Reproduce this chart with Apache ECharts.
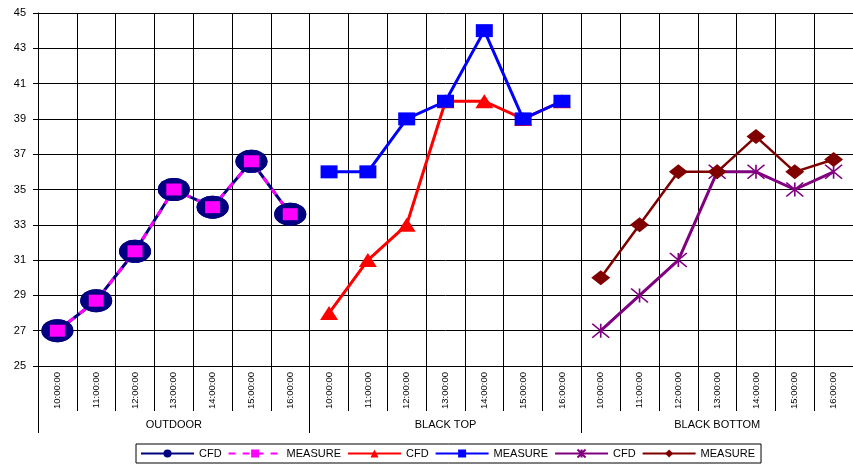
<!DOCTYPE html>
<html><head><meta charset="utf-8">
<script src="https://cdn.jsdelivr.net/npm/echarts@6/dist/echarts.min.js"></script>
<style>html,body{margin:0;padding:0;background:#fff}#c{width:853px;height:467px}</style>
</head><body><div id="c"></div>
<script>
// ---- data ----
const times = ['10:00:00','11:00:00','12:00:00','13:00:00','14:00:00','15:00:00','16:00:00'];
const groups = ['OUTDOOR','BLACK TOP','BLACK BOTTOM'];
const outdoorCfd = [27, 28.7, 31.5, 35, 34, 36.6, 33.6];
const outdoorMeasure = [27, 28.7, 31.5, 35, 34, 36.6, 33.6];
const blackTopCfd = [28, 31, 33, 40, 40, 39, 40];
const blackTopMeasure = [36, 36, 39, 40, 44, 39, 40];
const blackBottomCfd = [27, 29, 31, 36, 36, 35, 36];
const blackBottomMeasure = [30, 33, 36, 36, 38, 36, 36.7];
const yMin = 25, yMax = 45, yStep = 2;
const legendLabels = {
  'OUTDOOR CFD': 'CFD', 'OUTDOOR MEASURE': 'MEASURE',
  'BLACK TOP CFD': 'CFD', 'BLACK TOP MEASURE': 'MEASURE',
  'BLACK BOTTOM CFD': 'CFD', 'BLACK BOTTOM MEASURE': 'MEASURE'
};

// ---- build ----
const categories = groups.flatMap(() => times);
function place(g, values) {
  const arr = new Array(categories.length).fill(null);
  values.forEach((v, i) => { arr[g * times.length + i] = v; });
  return arr;
}
const FONT = "'Liberation Sans', Arial, sans-serif";
const ELLIPSE = 'path://M0,10A16,10,0,1,1,32,10A16,10,0,1,1,0,10Z';
const ASTER = 'path://M0,0L16,14M16,0L0,14M8,0L8,14';

function lineSeries(name, data, color, opts) {
  return Object.assign({
    name, type: 'line', data, xAxisIndex: 0, yAxisIndex: 0,
    showSymbol: true, showAllSymbol: true, connectNulls: false,
    lineStyle: { color, width: 3 },
    itemStyle: { color, opacity: 1 },
    emphasis: { disabled: true },
    animation: false
  }, opts);
}

const chart = echarts.init(document.getElementById('c'), null, { renderer: 'canvas' });
chart.setOption({
  animation: false,
  backgroundColor: '#fff',
  textStyle: { fontFamily: FONT, color: '#000' },
  grid: { left: 38, top: 13, right: -9, bottom: 101, containLabel: false },
  legend: {
    data: Object.keys(legendLabels),
    formatter: n => legendLabels[n],
    left: 136, top: 444,
    itemWidth: 53, itemHeight: 10, itemGap: 6,
    padding: [4, 6, 4, 4],
    borderColor: '#000', borderWidth: 1,
    textStyle: { fontSize: 11, color: '#000', fontFamily: FONT },
    selectedMode: false
  },
  xAxis: [{
    type: 'category', data: categories, position: 'bottom', boundaryGap: true,
    axisLine: { show: true, lineStyle: { color: '#000', width: 1 } },
    axisTick: { show: true, interval: 0, length: 45, lineStyle: { color: '#000', width: 1 } },
    axisLabel: { interval: 0, rotate: 90, margin: 6, fontSize: 9.5, color: '#000', fontFamily: FONT },
    splitLine: { show: true, interval: 0, lineStyle: { color: '#000', width: 1 } }
  }, {
    type: 'category', data: groups, position: 'bottom', boundaryGap: true,
    axisLine: { show: false },
    axisTick: { show: true, interval: 0, length: 67, lineStyle: { color: '#000', width: 1 } },
    axisLabel: { interval: 0, margin: 53, fontSize: 11, color: '#000', fontFamily: FONT },
    splitLine: { show: false }
  }],
  yAxis: {
    type: 'value', min: yMin, max: yMax, interval: yStep,
    axisLine: { show: true, lineStyle: { color: '#000', width: 1 } },
    axisTick: { show: true, length: 5, lineStyle: { color: '#000', width: 1 } },
    axisLabel: { margin: 12, fontSize: 11, color: '#000', fontFamily: FONT },
    splitLine: { show: true, lineStyle: { color: '#000', width: 1 } }
  },
  series: [
    lineSeries('OUTDOOR CFD', place(0, outdoorCfd), '#000080', { symbol: ELLIPSE, symbolSize: [32, 23], z: 2 }),
    lineSeries('OUTDOOR MEASURE', place(0, outdoorMeasure), '#FF00FF', {
      symbol: 'rect', symbolSize: [15, 12], z: 3,
      lineStyle: { color: '#FF00FF', width: 3, type: [7, 7] }
    }),
    // markers re-drawn above the lines
    lineSeries('outdoor-cfd-marks', place(0, outdoorCfd), '#000080', {
      symbol: ELLIPSE, symbolSize: [32, 23], z: 4, lineStyle: { opacity: 0, width: 0 }
    }),
    lineSeries('outdoor-measure-marks', place(0, outdoorMeasure), '#FF00FF', {
      symbol: 'rect', symbolSize: [15, 12], z: 5, lineStyle: { opacity: 0, width: 0 }
    }),
    lineSeries('BLACK TOP CFD', place(1, blackTopCfd), '#FF0000', { symbol: 'triangle', symbolSize: [18, 14], z: 6 }),
    lineSeries('BLACK TOP MEASURE', place(1, blackTopMeasure), '#0000FF', { symbol: 'rect', symbolSize: [17, 13], z: 7 }),
    lineSeries('BLACK BOTTOM CFD', place(2, blackBottomCfd), '#800080', {
      symbol: ASTER, symbolSize: [17, 14], z: 8,
      itemStyle: { color: '#800080', borderColor: '#800080', borderWidth: 1.5 }
    }),
    lineSeries('BLACK BOTTOM MEASURE', place(2, blackBottomMeasure), '#800000', {
      symbol: 'diamond', symbolSize: [19, 15], z: 9, lineStyle: { color: '#800000', width: 2.5 }
    })
  ]
});
</script>
</body></html>
